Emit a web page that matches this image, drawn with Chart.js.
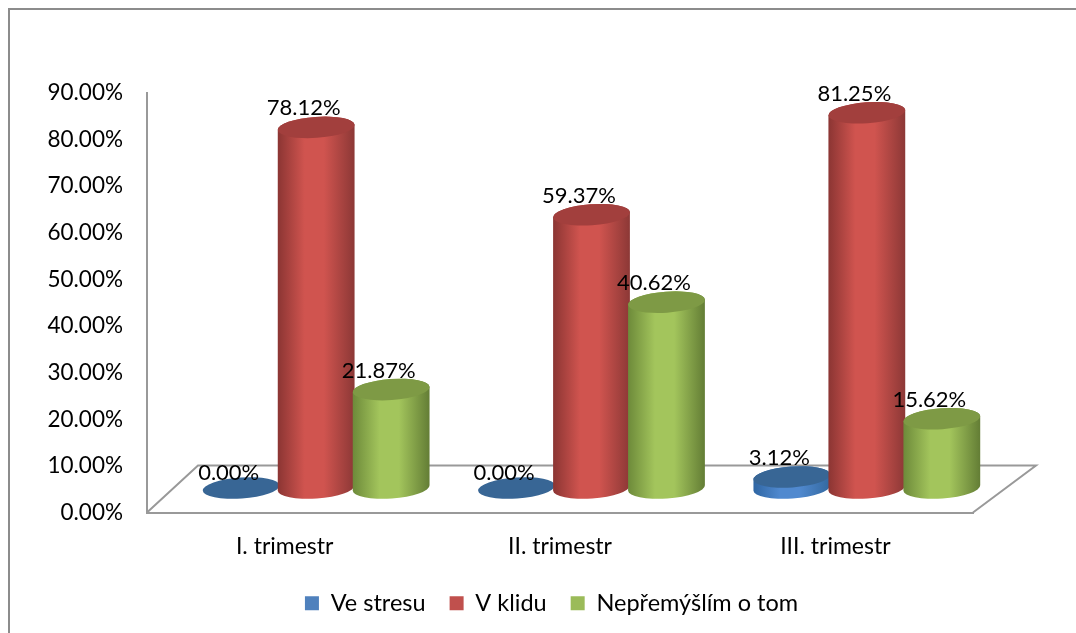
<!DOCTYPE html>
<html>
<head>
<meta charset="utf-8">
<title>Trimestr</title>
<script src="https://cdn.jsdelivr.net/npm/chart.js@4"></script>
<style>
    html, body { margin: 0; padding: 0; background: #fff; }
    #wrap { position: absolute; left: 0; top: 0; width: 1076px; height: 633px; overflow: hidden; }
    #frame { position: absolute; left: 8px; top: 8px; right: -4px; bottom: -4px; border: 2px solid #8c8c8c; box-sizing: border-box; }
    canvas { position: absolute; left: 0; top: 0; }
</style>
</head>
<body>
<div id="wrap">
    <div id="frame"></div>
    <canvas id="chart" width="1076" height="633"></canvas>
</div>
<script>
const categories = ['I. trimestr', 'II. trimestr', 'III. trimestr'];
const seriesNames = ['Ve stresu', 'V klidu', 'Nepřemýšlím o tom'];
const veStresu = [0, 0, 3.12];
const vKlidu = [78.12, 59.37, 81.25];
const nepremyslim = [21.87, 40.62, 15.62];

const fontName = 'Lato, "Open Sans", sans-serif';
const axisColor = '#999999';

// legend colour, then the cylinder shading: edge, middle, far edge, lid
const palette = [
    { flat: '#4f81bd', left: '#2f66a3', mid: '#5089cf', right: '#33689f', lid: '#386695' },
    { flat: '#c0504d', left: '#8b3533', mid: '#d0544f', right: '#8c3836', lid: '#a23f3d' },
    { flat: '#9bbb59', left: '#6d8a3a', mid: '#a3c55c', right: '#637d35', lid: '#7e9a45' }
];

// the floor sits behind the axis plane, so cylinders stand back and to the right
const depthX = 31.5;
const liftTop = 21;
const liftBase = 24.5;
const ellipseY = 10.5;
const tilt = -4 * Math.PI / 180;

function fmt(v) {
    return v.toFixed(2) + '%';
}

function drawCylinder(ctx, cx, baseY, topY, rx, colors) {
    if (baseY - topY > 0.5) {
        const grad = ctx.createLinearGradient(cx - rx, 0, cx + rx, 0);
        grad.addColorStop(0, colors.left);
        grad.addColorStop(0.35, colors.mid);
        grad.addColorStop(0.6, colors.mid);
        grad.addColorStop(1, colors.right);
        ctx.fillStyle = grad;
        ctx.beginPath();
        ctx.ellipse(cx, baseY, rx, ellipseY, tilt, Math.PI, 0, true);
        ctx.ellipse(cx, topY, rx, ellipseY, tilt, 0, Math.PI, true);
        ctx.closePath();
        ctx.fill();
    }
    ctx.fillStyle = colors.lid;
    ctx.beginPath();
    ctx.ellipse(cx, topY, rx, ellipseY, tilt, 0, Math.PI * 2);
    ctx.fill();
}

// Draws the floor, the cylinders and the value labels instead of flat bars
const cylinders = {
    id: 'cylinders',
    beforeDatasetsDraw(chart) {
        const ctx = chart.ctx;
        const area = chart.chartArea;

        ctx.save();
        ctx.strokeStyle = axisColor;
        ctx.lineWidth = 2;
        ctx.beginPath();
        ctx.moveTo(area.left, area.bottom);
        ctx.lineTo(area.left + 51, area.bottom - 47);
        ctx.lineTo(area.right + 63, area.bottom - 47);
        ctx.lineTo(area.right, area.bottom);
        ctx.stroke();

        chart.data.datasets.forEach((ds, i) => {
            const meta = chart.getDatasetMeta(i);
            meta.data.forEach(bar => {
                const baseY = bar.base - liftBase;
                const topY = Math.min(bar.y - liftTop, baseY);
                drawCylinder(ctx, bar.x + depthX, baseY, topY, bar.width / 2 + 1, palette[i]);
            });
        });

        ctx.fillStyle = '#000';
        ctx.font = '22px ' + fontName;
        ctx.textAlign = 'center';
        ctx.textBaseline = 'middle';
        chart.data.datasets.forEach((ds, i) => {
            const meta = chart.getDatasetMeta(i);
            meta.data.forEach((bar, j) => {
                ctx.fillText(fmt(ds.data[j]), bar.x + depthX - 12.5, bar.y - liftTop - 19);
            });
        });
        ctx.restore();
        return false;
    },
    // legend is centred under the floor, not under the axis plane
    afterLayout(chart) {
        const legend = chart.legend;
        legend.left += 65;
        legend.right += 65;
        legend.top -= 5;
        legend.bottom -= 5;
    }
};

new Chart(document.getElementById('chart'), {
    type: 'bar',
    data: {
        labels: categories,
        datasets: [
            { label: seriesNames[0], data: veStresu, backgroundColor: palette[0].flat },
            { label: seriesNames[1], data: vKlidu, backgroundColor: palette[1].flat },
            { label: seriesNames[2], data: nepremyslim, backgroundColor: palette[2].flat }
        ]
    },
    options: {
        responsive: false,
        animation: false,
        layout: { padding: { top: 93, right: 103, left: 0, bottom: 3 } },
        datasets: { bar: { categoryPercentage: 0.817, barPercentage: 1 } },
        scales: {
            x: {
                grid: { display: false },
                border: { color: axisColor, width: 2 },
                ticks: { color: '#000', font: { family: fontName, size: 23 }, padding: 12 },
                afterFit(scale) { scale.height = 60; }
            },
            y: {
                min: 0,
                max: 90,
                grid: { display: false },
                border: { color: axisColor, width: 2 },
                ticks: {
                    stepSize: 10,
                    color: '#000',
                    padding: 16,
                    font: { family: fontName, size: 22.5 },
                    callback: v => fmt(v)
                },
                afterFit(scale) { scale.width = 147; }
            }
        },
        plugins: {
            legend: {
                position: 'bottom',
                labels: {
                    boxWidth: 14,
                    boxHeight: 14,
                    padding: 24,
                    color: '#000',
                    font: { family: fontName, size: 23.5 }
                }
            },
            tooltip: { enabled: false }
        }
    },
    plugins: [cylinders]
});
</script>
</body>
</html>
